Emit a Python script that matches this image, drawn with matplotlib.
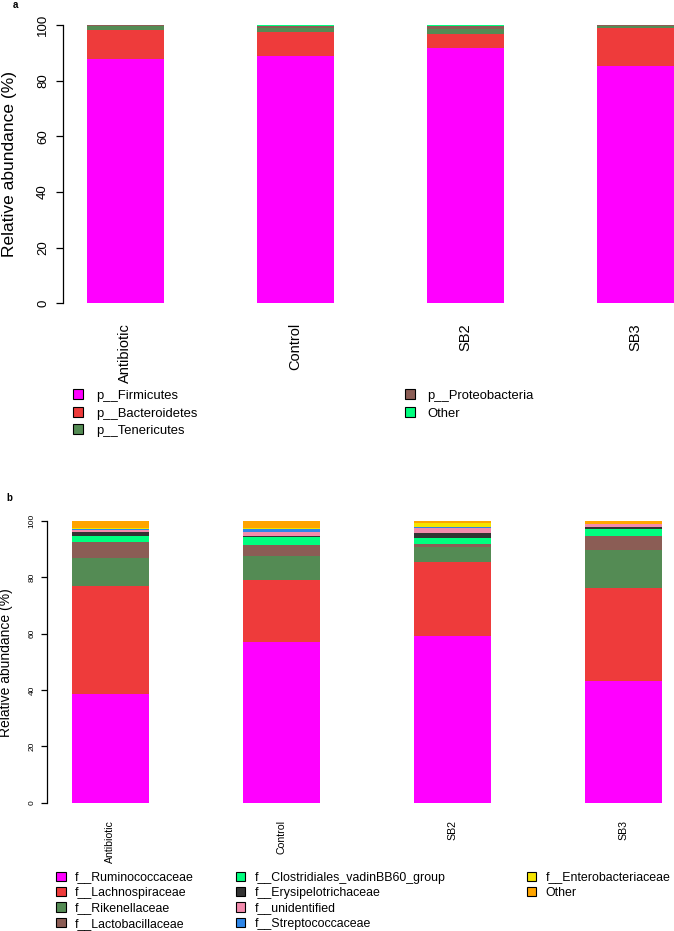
import matplotlib
matplotlib.use("Agg")
import matplotlib.pyplot as plt
from matplotlib.patches import Patch

plt.rcParams['font.family'] = ['Liberation Sans', 'DejaVu Sans']

# ---------------- data ----------------
samples = ['Antibiotic', 'Control', 'SB2', 'SB3']

phylum_labels = ['p__Firmicutes', 'p__Bacteroidetes', 'p__Tenericutes',
                 'p__Proteobacteria', 'Other']
firmicutes = [87.9, 89.0, 91.7, 85.1]
bacteroidetes = [10.3, 8.5, 5.1, 13.7]
tenericutes = [1.6, 1.5, 1.9, 0.9]
proteobacteria = [0.1, 0.8, 1.1, 0.2]
other_phylum = [0.1, 0.2, 0.2, 0.1]

family_labels = ['f__Ruminococcaceae', 'f__Lachnospiraceae', 'f__Rikenellaceae',
                 'f__Lactobacillaceae', 'f__Clostridiales_vadinBB60_group',
                 'f__Erysipelotrichaceae', 'f__unidentified', 'f__Streptococcaceae',
                 'f__Enterobacteriaceae', 'Other']
ruminococcaceae = [38.5, 57.2, 59.2, 43.3]
lachnospiraceae = [38.4, 21.9, 26.3, 32.8]
rikenellaceae = [10.1, 8.5, 5.2, 13.7]
lactobacillaceae = [5.7, 4.0, 1.2, 5.0]
clostridiales = [1.9, 2.8, 1.9, 2.4]
erysipelotrichaceae = [1.4, 0.4, 1.9, 0.7]
unidentified = [0.7, 1.2, 1.9, 1.0]
streptococcaceae = [0.4, 1.1, 0.1, 0.1]
enterobacteriaceae = [0.3, 0.5, 1.5, 0.1]
other_family = [2.6, 2.4, 0.8, 0.9]

phylum_colors = ['#FF00FF', '#EE3B3B', '#548B54', '#8B5D55', '#00FF7F']
family_colors = ['#FF00FF', '#EE3B3B', '#548B54', '#8B5D55', '#00FF7F',
                 '#333333', '#F38BAD', '#2E86E8', '#F5E400', '#FFA500']

yticks = [0, 20, 40, 60, 80, 100]

# ---------------- figure ----------------
W, H = 674, 931
fig = plt.figure(figsize=(W / 100, H / 100), dpi=100)


def px_axes(left, top, right, bottom):
    return fig.add_axes([left / W, 1 - bottom / H, (right - left) / W, (bottom - top) / H])


def stacked(ax, series, colors, width):
    x = list(range(len(samples)))
    bottom = [0.0] * len(samples)
    for vals, c in zip(series, colors):
        ax.bar(x, vals, width=width, bottom=bottom, color=c, edgecolor='none',
               linewidth=0)
        bottom = [b + v for b, v in zip(bottom, vals)]


def style_axes(ax, tick_fs, tick_len, ytick_pad, cat_fs, cat_pad):
    for s in ['top', 'right', 'bottom']:
        ax.spines[s].set_visible(False)
    ax.spines['left'].set_linewidth(0.9)
    ax.set_ylim(0, 100)
    ax.set_yticks(yticks)
    ax.set_yticklabels([str(t) for t in yticks], rotation=90, va='center',
                       fontsize=tick_fs)
    ax.tick_params(axis='y', length=tick_len, width=0.9, pad=ytick_pad)
    ax.set_xticks(range(len(samples)))
    ax.set_xticklabels(samples, rotation=90, va='top', ha='center', fontsize=cat_fs)
    ax.tick_params(axis='x', length=0, pad=cat_pad)


# ---- panel a ----
axa = px_axes(63, 25, 674, 303.3)
stacked(axa, [firmicutes, bacteroidetes, tenericutes, proteobacteria, other_phylum],
        phylum_colors, 0.453)
axa.set_xlim(-0.366, 3.226)
style_axes(axa, tick_fs=9.5, tick_len=5, ytick_pad=5, cat_fs=10.5, cat_pad=14.2)
fig.text(9.5 / W, 1 - 164 / H, 'Relative abundance (%)', rotation=90,
         ha='center', va='center', fontsize=12.5)
fig.text(15 / W, 1 - 5 / H, 'a', ha='center', va='center', fontsize=7,
         fontweight='bold')

handles_a = [Patch(facecolor=c, edgecolor='black', linewidth=0.8) for c in phylum_colors]
leg_kw = dict(frameon=False, borderpad=0, borderaxespad=0, handlelength=0.8,
              handleheight=0.8, loc='upper left')
fig.legend(handles_a[:3], phylum_labels[:3], bbox_to_anchor=(73 / W, 1 - 389.5 / H),
           fontsize=9.4, labelspacing=0.38, handletextpad=0.95, **leg_kw)
fig.legend(handles_a[3:], phylum_labels[3:], bbox_to_anchor=(404.5 / W, 1 - 389.5 / H),
           fontsize=9.4, labelspacing=0.38, handletextpad=0.95, **leg_kw)

# ---- panel b ----
axb = px_axes(47, 521, 674, 802.6)
stacked(axb, [ruminococcaceae, lachnospiraceae, rikenellaceae, lactobacillaceae,
              clostridiales, erysipelotrichaceae, unidentified, streptococcaceae,
              enterobacteriaceae, other_family], family_colors, 0.450)
axb.set_xlim(-0.371, 3.295)
style_axes(axb, tick_fs=6, tick_len=4.3, ytick_pad=4, cat_fs=7.6, cat_pad=12.5)
fig.text(6.5 / W, 1 - 663 / H, 'Relative abundance (%)', rotation=90,
         ha='center', va='center', fontsize=10)
fig.text(9.5 / W, 1 - 498 / H, 'b', ha='center', va='center', fontsize=7,
         fontweight='bold')

handles_b = [Patch(facecolor=c, edgecolor='black', linewidth=0.8) for c in family_colors]
cols_b = [(0, 4, 56), (4, 8, 235.5), (8, 10, 526.5)]
for i0, i1, xl in cols_b:
    fig.legend(handles_b[i0:i1], family_labels[i0:i1],
               bbox_to_anchor=(xl / W, 1 - 871.5 / H),
               fontsize=8.9, labelspacing=0.27, handletextpad=0.75, **leg_kw)

fig.savefig('out.png', dpi=100)
